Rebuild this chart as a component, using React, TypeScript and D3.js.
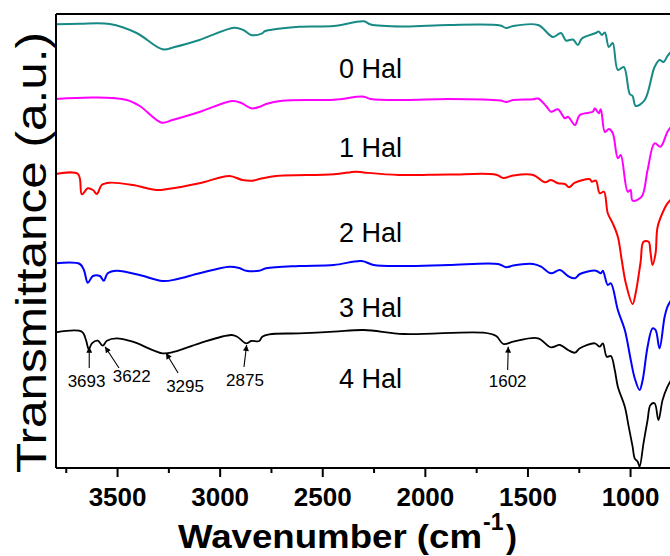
import React from "react";
import * as d3 from "d3";

type Pt = [number, number];

// Wavenumber (cm-1) vs transmittance (a.u., stacked/offset)
const hal0: Pt[] = [
  [3800, 443.7], [3684, 444.3], [3538, 444], [3407, 435], [3281, 418.7], [3222, 421],
  [3101, 428], [2931, 440.3], [2887, 438], [2849, 433], [2795, 434.7], [2781, 437],
  [2727, 439], [2616, 441.3], [2446, 442], [2300, 446.7], [2266, 443.5], [2106, 441.5],
  [1887, 443], [1635, 442.5], [1606, 440], [1572, 442], [1451, 443], [1378, 431],
  [1339, 435], [1315, 427.5], [1281, 428.5], [1257, 423], [1237, 429.5], [1169, 435],
  [1155, 436.5], [1140, 433], [1125, 435.5], [1106, 421], [1087, 425], [1062, 398],
  [1033, 401], [1004, 374], [990, 372], [975, 362], [931, 368], [883, 401],
  [859, 408], [839, 406], [820, 412], [796, 418],
];

const hal1: Pt[] = [
  [3800, 369], [3611, 370.5], [3455, 368], [3392, 362], [3285, 345.3], [3232, 348],
  [3101, 356], [2941, 367], [2897, 365], [2849, 359.7], [2810, 361], [2776, 364],
  [2698, 367.3], [2446, 368.3], [2300, 371.3], [2266, 369], [2106, 368], [1887, 369],
  [1635, 367.5], [1606, 366], [1572, 368], [1475, 368.7], [1451, 369.5], [1412, 362],
  [1388, 356.3], [1354, 358.7], [1320, 349.7], [1305, 351.3], [1271, 343], [1247, 353],
  [1184, 356.3], [1174, 359.7], [1155, 354.7], [1145, 358.7], [1125, 336], [1106, 339],
  [1087, 335], [1062, 309.7], [1048, 313], [1014, 276.3], [1000, 278], [990, 267.3],
  [946, 271.3], [917, 298], [883, 324.7], [854, 321.3], [820, 336.3], [796, 343],
];

const hal2: Pt[] = [
  [3800, 294], [3693, 294], [3674, 273.7], [3645, 279.7], [3620, 278], [3601, 274],
  [3577, 283], [3538, 285.3], [3426, 283], [3310, 278], [3256, 279], [3101, 284.7],
  [2955, 292], [2892, 288], [2844, 287.3], [2795, 289.7], [2727, 292], [2446, 293.7],
  [2339, 296.3], [2300, 295.5], [2130, 293], [1887, 293.5], [1655, 293.3], [1620, 290],
  [1572, 292.5], [1475, 293], [1417, 285.7], [1388, 288], [1354, 284.7], [1320, 284],
  [1300, 280.7], [1271, 285.3], [1198, 288.7], [1189, 286.3], [1169, 287.3], [1150, 274.7],
  [1130, 276.3], [1111, 254.7], [1087, 244.7], [1062, 231.3], [1043, 208], [1023, 184.7],
  [990, 164], [975, 175], [951, 206], [937, 226.3], [912, 226.3], [903, 216],
  [893, 203], [878, 215], [868, 241.3], [834, 259.7], [820, 264.7], [796, 270],
];

const hal3: Pt[] = [
  [3800, 204.7], [3684, 204], [3664, 198], [3645, 185.3], [3620, 192], [3586, 192],
  [3567, 187.3], [3548, 194.7], [3504, 197.3], [3392, 193], [3281, 187], [3213, 188.7],
  [3101, 194.7], [2955, 201.3], [2907, 200], [2873, 197.3], [2810, 197.3], [2776, 199.7],
  [2616, 202], [2446, 203], [2310, 207], [2252, 203], [2106, 202], [1887, 203],
  [1645, 204], [1606, 200.7], [1572, 202.5], [1475, 204], [1436, 201.3], [1388, 194.7],
  [1344, 198], [1305, 192], [1271, 189.7], [1247, 194], [1169, 197.3], [1145, 194.7],
  [1135, 197.3], [1111, 183], [1096, 184.7], [1062, 158], [1028, 138], [999, 108],
  [980, 90], [956, 78], [941, 88], [917, 121.3], [893, 139.7], [878, 138],
  [859, 119.7], [834, 151.3], [820, 161.3], [796, 170],
];

const hal4: Pt[] = [
  [3800, 135.7], [3674, 136.3], [3654, 128], [3640, 118.7], [3625, 124.7], [3596, 127.3],
  [3572, 122.3], [3552, 127.3], [3504, 129.7], [3426, 126.3], [3281, 114.7], [3222, 116.3],
  [3101, 124.7], [2946, 133], [2917, 131.3], [2873, 124.7], [2849, 127], [2810, 127],
  [2795, 131.3], [2761, 133.7], [2616, 134.7], [2446, 136.3], [2300, 138], [2106, 134],
  [1717, 135.3], [1655, 132], [1620, 124], [1572, 126.3], [1451, 129.7], [1388, 120.7],
  [1344, 123], [1305, 118], [1271, 115.3], [1247, 119.7], [1174, 124.7], [1150, 121.3],
  [1135, 124.7], [1116, 111.3], [1096, 112], [1077, 98], [1062, 81.3], [1028, 61.3],
  [1009, 41.3], [990, 21.3], [980, 9.7], [965, 6.3], [956, 1.3], [937, 24.7],
  [917, 48], [903, 63], [883, 64.7], [864, 48], [844, 68], [820, 81.3], [796, 90],
];

const seriesNames = ["0 Hal", "1 Hal", "2 Hal", "3 Hal", "4 Hal"];
const seriesData = [hal0, hal1, hal2, hal3, hal4];
const seriesColors = ["#178a86", "#ff00ff", "#ff0000", "#0000ff", "#000000"];
// label anchor: wavenumber, value
const labelPos: Pt[] = [[2421, 390], [2421, 311], [2421, 226], [2421, 151], [2421, 80]];

const majorTicks = [3500, 3000, 2500, 2000, 1500, 1000];
const minorTicks = [3750, 3250, 2750, 2250, 1750, 1250, 750];

const peakLabels = ["3693", "3622", "3295", "2875", "1602"];
// [tipW, tipV, tailW, tailV, labelW, labelV]
const peakArrows: number[][] = [
  [3638, 121.3, 3638, 100, 3651, 81],
  [3561, 121.3, 3493, 100, 3431, 86.3],
  [3264, 115, 3205, 95, 3171, 76.3],
  [2871, 123, 2884, 101, 2879, 82],
  [1596, 121.3, 1599, 98, 1599, 81.3],
];

const W = 670;
const H = 556;
const left = 56;
const top = 14;
const bottom = 468;

export default function App() {
  const x = d3.scaleLinear().domain([3800, 800]).range([left, left + 3000 * 0.2052]);
  const y = d3.scaleLinear().domain([0, 454]).range([bottom, top]);
  const line = d3
    .line<Pt>()
    .x((d) => x(d[0]))
    .y((d) => y(d[1]))
    .curve(d3.curveCatmullRom.alpha(0.5));
  const font = "'Liberation Sans', Arial, Helvetica, sans-serif";

  return (
    <svg
      width={W}
      height={H}
      style={{ position: "absolute", left: 0, top: 0, background: "#fff" }}
      fontFamily={font}
    >
      <defs>
        <marker id="ah" viewBox="0 0 10 10" refX="10" refY="5" markerWidth="8" markerHeight="6" markerUnits="userSpaceOnUse" orient="auto">
          <path d="M0,0 L10,5 L0,10 z" fill="#000" />
        </marker>
        <clipPath id="plot">
          <rect x={left} y={top - 2} width={W - left} height={bottom - top + 2} />
        </clipPath>
      </defs>

      <g clipPath="url(#plot)">
        {seriesData.map((d, i) => (
          <path
            key={seriesNames[i]}
            d={line(d) || ""}
            fill="none"
            stroke={seriesColors[i]}
            strokeWidth={i === 4 ? 1.8 : 2}
            strokeLinejoin="round"
          />
        ))}
      </g>

      {seriesNames.map((n, i) => (
        <text key={n} x={x(labelPos[i][0])} y={y(labelPos[i][1])} fontSize={27} fill="#000">
          {n}
        </text>
      ))}

      {peakArrows.map((a, i) => (
        <g key={peakLabels[i]}>
          <line x1={x(a[2])} y1={y(a[3])} x2={x(a[0])} y2={y(a[1])} stroke="#000" strokeWidth={1.1} markerEnd="url(#ah)" />
          <text x={x(a[4])} y={y(a[5])} fontSize={17} textAnchor="middle" fill="#000">
            {peakLabels[i]}
          </text>
        </g>
      ))}

      {/* axes */}
      <line x1={left} y1={top} x2={W} y2={top} stroke="#000" strokeWidth={2} />
      <line x1={left} y1={top} x2={left} y2={bottom} stroke="#000" strokeWidth={2} />
      <line x1={left} y1={bottom} x2={W} y2={bottom} stroke="#000" strokeWidth={2} />
      {majorTicks.map((t) => (
        <g key={t}>
          <line x1={x(t)} y1={bottom} x2={x(t)} y2={bottom + 9} stroke="#000" strokeWidth={2} />
          <text x={x(t)} y={506} fontSize={26} fontWeight="bold" textAnchor="middle" fill="#000">
            {t}
          </text>
        </g>
      ))}
      {minorTicks.map((t) => (
        <line key={t} x1={x(t)} y1={bottom} x2={x(t)} y2={bottom + 5} stroke="#000" strokeWidth={2} />
      ))}

      <text
        transform="translate(46,252.5) rotate(-90)"
        fontSize={43}
        textAnchor="middle"
        textLength={441}
        lengthAdjust="spacingAndGlyphs"
        fill="#000"
      >
        Transmittance (a.u.)
      </text>

      <g fontWeight="bold" fill="#000">
        <text x={178} y={548} fontSize={33} textLength={304} lengthAdjust="spacingAndGlyphs">
          Wavenumber (cm
        </text>
        <text x={483} y={530} fontSize={23}>-1</text>
        <text x={506} y={548} fontSize={33}>)</text>
      </g>
    </svg>
  );
}
